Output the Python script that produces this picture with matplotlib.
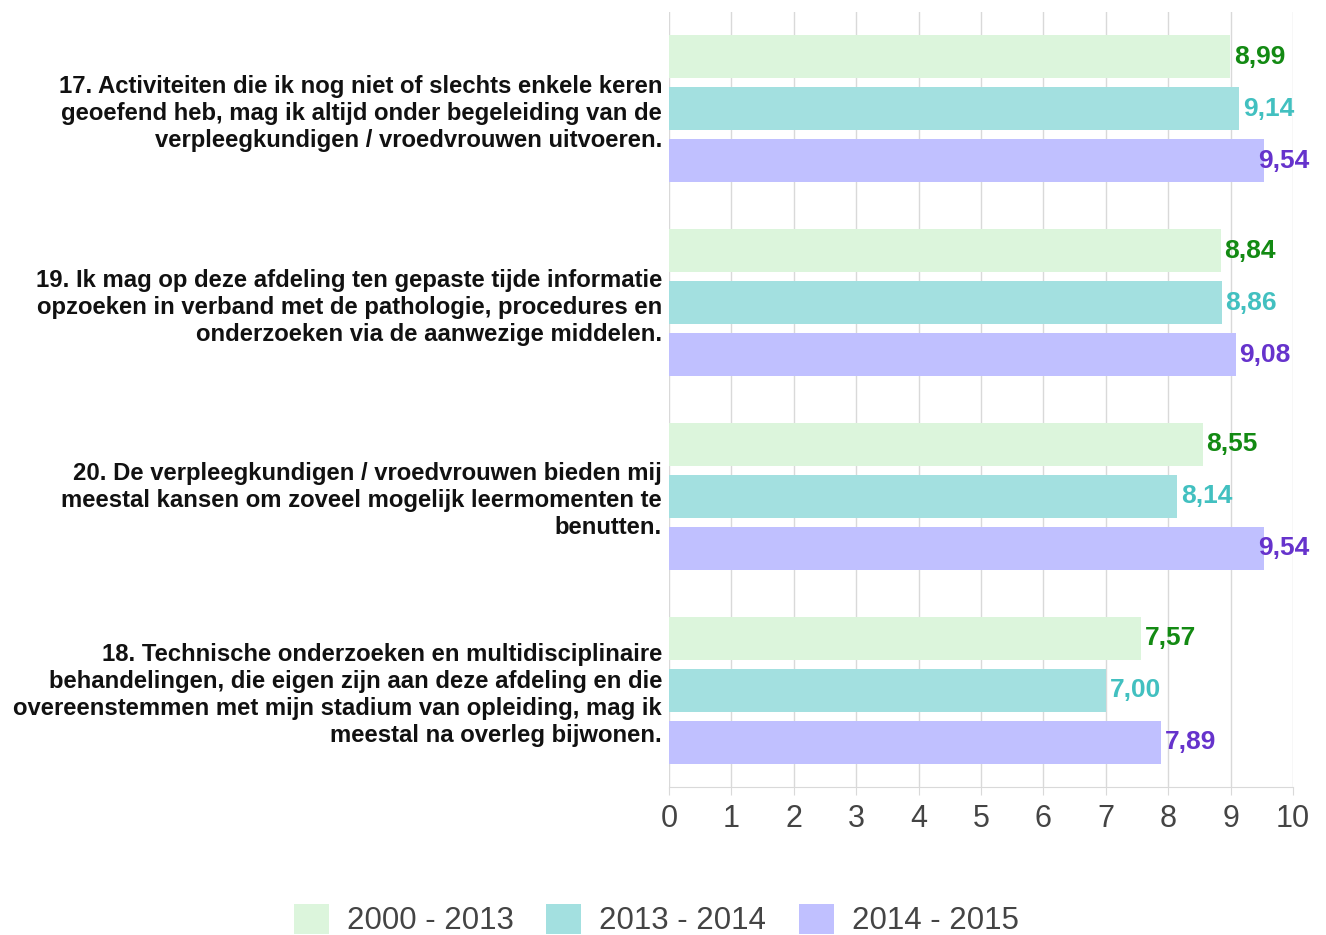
"""Horizontal grouped bar chart: student survey scores per period."""

import matplotlib.pyplot as plt
import numpy as np

plt.rcParams["font.family"] = ["Liberation Sans", "DejaVu Sans"]

questions = [
    "17. Activiteiten die ik nog niet of slechts enkele keren\n"
    "geoefend heb, mag ik altijd onder begeleiding van de\n"
    "verpleegkundigen / vroedvrouwen uitvoeren.",
    "19. Ik mag op deze afdeling ten gepaste tijde informatie\n"
    "opzoeken in verband met de pathologie, procedures en\n"
    "onderzoeken via de aanwezige middelen.",
    "20. De verpleegkundigen / vroedvrouwen bieden mij\n"
    "meestal kansen om zoveel mogelijk leermomenten te\n"
    "benutten.",
    "18. Technische onderzoeken en multidisciplinaire\n"
    "behandelingen, die eigen zijn aan deze afdeling en die\n"
    "overeenstemmen met mijn stadium van opleiding, mag ik\n"
    "meestal na overleg bijwonen.",
]
periods = ["2000 - 2013", "2013 - 2014", "2014 - 2015"]
scores_2000_2013 = [8.99, 8.84, 8.55, 7.57]
scores_2013_2014 = [9.14, 8.86, 8.14, 7.00]
scores_2014_2015 = [9.54, 9.08, 9.54, 7.89]

bar_colors = ["#dcf5dc", "#a3e0e0", "#c0c0ff"]
label_colors = ["#138a13", "#42c0c0", "#6633cc"]

fig = plt.figure(figsize=(13.26, 9.35), dpi=100)
ax = fig.add_axes([0.5045, 1 - 787 / 935, 0.4706, 775 / 935])

series = [scores_2000_2013, scores_2013_2014, scores_2014_2015]
y = np.arange(len(questions))
step = 0.268
height = 0.222
label_limit = 10.27

for i, vals in enumerate(series):
    pos = y + (i - 1) * step
    ax.barh(pos, vals, height=height, color=bar_colors[i], label=periods[i], zorder=2)
    for p, v in zip(pos, vals):
        txt = f"{v:.2f}".replace(".", ",")
        if v + 0.06 + 0.84 > label_limit:
            ax.text(label_limit, p, txt, ha="right", va="center", fontsize=19,
                    fontweight="bold", color=label_colors[i], zorder=3)
        else:
            ax.text(v + 0.06, p, txt, ha="left", va="center", fontsize=19,
                    fontweight="bold", color=label_colors[i], zorder=3)

ax.set_ylim(len(questions) - 0.5, -0.5)
ax.set_xlim(0, 10)
ax.set_xticks(range(11))
ax.set_yticks(y)
ax.set_yticklabels(questions, fontsize=17.2, fontweight="bold", color="#111111",
                   linespacing=1.22, ha="right", va="center_baseline")
ax.tick_params(axis="y", length=0, pad=5)
ax.tick_params(axis="x", length=6, color="#d9d9d9", labelsize=22, labelcolor="#444444", pad=6)
ax.xaxis.grid(True, color="#d9d9d9", linewidth=1, zorder=0)
for s in ["top", "right", "left"]:
    ax.spines[s].set_visible(False)
ax.spines["bottom"].set_color("#d9d9d9")

fig.legend(loc="center", bbox_to_anchor=(0.495, 0.016), ncol=3, frameon=False,
           fontsize=22.5, handlelength=1.12, handleheight=1.1, columnspacing=1.05,
           labelcolor="#444444", handletextpad=0.58)

fig.savefig("out.png", dpi=100)
